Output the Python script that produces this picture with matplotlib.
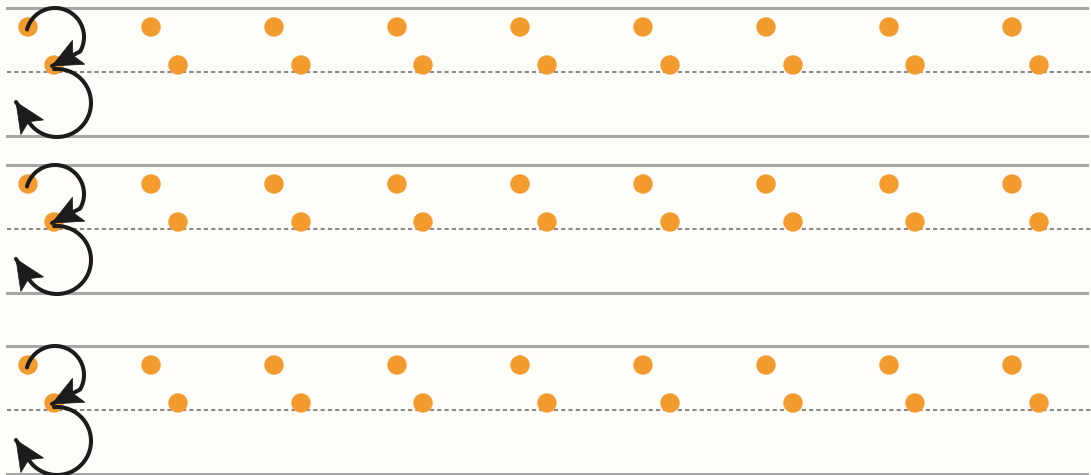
"""
数字3书写练习格 - 描红点阵与笔顺箭头
"""

import numpy as np
import matplotlib.pyplot as plt
from matplotlib.patches import Circle, Polygon

# 数据: 每一行的顶线位置 (像素), 以及两排描红点的横坐标
row_tops = [8, 165, 346]
upper_dot_x = [28, 151, 274, 397, 520, 643, 766, 889, 1012]
lower_dot_x = [54, 178, 301, 423, 547, 670, 793, 915, 1039]

# 行内相对位置
UPPER_DY = 19
LOWER_DY = 57
MID_DY = 64
BOTTOM_DY = 128

ORANGE = '#F39B2D'
GRAY = '#A6A6A6'
DASH_GRAY = '#8A8A8A'
INK = '#1C1C1C'


def arrow_head(ax, tip, direction, length=30, width=27, notch=0.22):
    """在 tip 处画一个带内凹尾部的箭头"""
    d = np.asarray(direction, float)
    d = d / np.hypot(*d)
    n = np.array([-d[1], d[0]])
    tip = np.asarray(tip, float)
    back = tip - d * length
    pts = [tip, back + n * width / 2, tip - d * length * (1 - notch), back - n * width / 2]
    ax.add_patch(Polygon(pts, closed=True, fc=INK, ec=INK, lw=0.5, zorder=5))


def arc(cx, cy, r, t0, t1, n=80):
    t = np.radians(np.linspace(t0, t1, n))
    return cx + r * np.cos(t), cy - r * np.sin(t)


def draw_three(ax, top):
    # 上半圈
    x, y = arc(55, top + 29, 29, 165, -30)
    tip = (52, top + 58)
    ax.plot(np.r_[x, tip[0]], np.r_[y, tip[1]], color=INK, lw=2.9,
            solid_capstyle='round', zorder=4)
    arrow_head(ax, tip, (tip[0] - x[-1], tip[1] - y[-1]))
    # 下半圈
    x, y = arc(57, top + 95, 34, 95, -150)
    tip = (16, top + 94)
    ax.plot(np.r_[x, tip[0]], np.r_[y, tip[1]], color=INK, lw=2.9,
            solid_capstyle='round', zorder=4)
    arrow_head(ax, tip, (tip[0] - x[-1], tip[1] - y[-1]))


fig = plt.figure(figsize=(10.91, 4.75), dpi=100, facecolor='#FEFDFA')
ax = fig.add_axes([0, 0, 1, 1])
ax.set_xlim(0, 1091)
ax.set_ylim(475, 0)
ax.set_facecolor('#FEFDFA')
ax.axis('off')

for top in row_tops:
    ax.plot([7, 1087], [top, top], color=GRAY, lw=2.2, zorder=1)
    ax.plot([7, 1087], [top + BOTTOM_DY, top + BOTTOM_DY], color=GRAY, lw=2.2, zorder=1)
    ax.plot([7, 1091], [top + MID_DY, top + MID_DY], color=DASH_GRAY, lw=1.5,
            linestyle=(0, (2.0, 1.5)), zorder=1)

    for x in upper_dot_x:
        ax.add_patch(Circle((x, top + UPPER_DY), 9, color=ORANGE, zorder=2))
    for x in lower_dot_x:
        ax.add_patch(Circle((x, top + LOWER_DY), 9, color=ORANGE, zorder=2))

    draw_three(ax, top)

plt.savefig('out.png', dpi=100, facecolor=fig.get_facecolor())
plt.close()
